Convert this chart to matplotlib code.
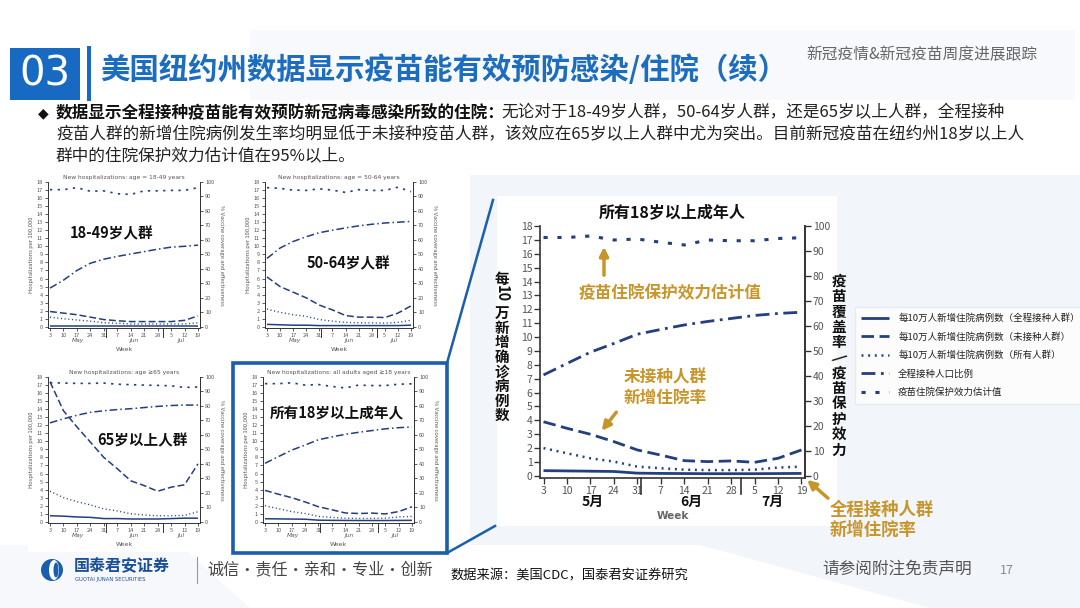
import matplotlib
matplotlib.use('Agg')
import matplotlib.pyplot as plt
from matplotlib.patches import Rectangle, Polygon, Circle, Ellipse

plt.rcParams['font.family'] = ['Noto Sans CJK SC', 'DejaVu Sans']
plt.rcParams['lines.scale_dashes'] = False
plt.rcParams['axes.unicode_minus'] = False

# ---------------- data ----------------
weeks = ['3', '10', '17', '24', '31', '7', '14', '21', '28', '5', '12', '19']
month_labels_cn = ['5月', '6月', '7月']
month_labels_en = ['May', 'Jun', 'Jul']
month_pos = [2.1, 6.3, 9.75]
month_breaks = [4 + 1 / 7, 8 + 3 / 7]

# all adults >= 18 (main chart + small chart 4)
adult_vax = [0.38, 0.36, 0.34, 0.32, 0.20, 0.18, 0.17, 0.16, 0.16, 0.16, 0.17, 0.18]
adult_unvax = [3.9, 3.43, 3.0, 2.47, 1.87, 1.5, 1.1, 1.03, 1.08, 0.98, 1.27, 1.87]
adult_all = [2.0, 1.63, 1.27, 1.03, 0.67, 0.55, 0.45, 0.42, 0.42, 0.45, 0.6, 0.67]
adult_cov = [40.4, 45.0, 49.5, 53.0, 56.7, 58.6, 60.4, 61.8, 63.0, 64.2, 65.0, 65.5]
adult_eff = [95.4, 95.4, 96.0, 94.4, 94.8, 93.5, 92.4, 94.4, 94.1, 94.1, 95.0, 95.3]

# 18-49
y1849_vax = [0.1, 0.1, 0.1, 0.1, 0.1, 0.1, 0.1, 0.1, 0.1, 0.1, 0.1, 0.1]
y1849_unvax = [1.9, 1.7, 1.5, 1.2, 0.9, 0.75, 0.65, 0.65, 0.65, 0.65, 0.8, 1.35]
y1849_all = [1.2, 1.0, 0.85, 0.7, 0.5, 0.45, 0.35, 0.35, 0.35, 0.35, 0.35, 0.5]
y1849_cov = [26.7, 32.2, 38.9, 43.9, 46.7, 48.6, 50.3, 51.9, 53.6, 55.0, 55.6, 56.4]
y1849_eff = [94.7, 94.7, 96.1, 93.6, 93.9, 91.9, 91.4, 93.9, 93.9, 94.2, 94.2, 96.1]

# 50-64
y5064_vax = [0.3, 0.25, 0.2, 0.2, 0.15, 0.15, 0.15, 0.15, 0.15, 0.15, 0.15, 0.2]
y5064_unvax = [6.2, 5.0, 4.3, 3.6, 2.7, 2.1, 1.4, 1.2, 1.2, 1.15, 1.7, 2.6]
y5064_all = [2.2, 1.8, 1.5, 1.3, 0.9, 0.7, 0.55, 0.5, 0.5, 0.45, 0.55, 0.8]
y5064_cov = [47.2, 54.4, 58.9, 62.2, 65.0, 66.7, 68.3, 69.7, 70.8, 71.7, 72.2, 72.8]
y5064_eff = [96.1, 95.6, 94.4, 94.2, 95.3, 94.4, 92.8, 94.7, 94.2, 94.2, 96.4, 93.3]

# >= 65
y65_vax = [0.75, 0.7, 0.6, 0.55, 0.4, 0.4, 0.35, 0.35, 0.35, 0.4, 0.45, 0.45]
y65_unvax = [17.4, 13.8, 11.8, 9.9, 8.0, 6.6, 5.1, 4.5, 3.8, 4.3, 4.6, 7.2]
y65_all = [3.8, 3.0, 2.5, 2.1, 1.6, 1.35, 1.0, 0.85, 0.75, 0.75, 0.8, 1.25]
y65_cov = [68.3, 71.1, 73.6, 75.6, 76.7, 77.5, 78.1, 78.9, 79.7, 80.3, 80.6, 80.6]
y65_eff = [96.1, 95.8, 95.6, 95.6, 95.8, 95.0, 94.7, 94.4, 94.2, 93.9, 92.8, 93.1]

legend_labels = ['每10万人新增住院病例数（全程接种人群）', '每10万人新增住院病例数（未接种人群）',
                 '每10万人新增住院病例数（所有人群）', '全程接种人口比例', '疫苗住院保护效力估计值']

# ---------------- figure ----------------
W, H = 1080, 608
fig = plt.figure(figsize=(10.8, 6.08), dpi=100)
fig.patch.set_facecolor('white')

NAVY = '#233f7c'
GOLD = '#c8952a'
BLUE = '#1c6cc0'


def rect_axes(l, t, r, b, **kw):
    return fig.add_axes([l / W, 1 - b / H, (r - l) / W, (b - t) / H], **kw)


# background axes
bg = fig.add_axes([0, 0, 1, 1], zorder=-5)
bg.set_xlim(0, W)
bg.set_ylim(H, 0)
bg.axis('off')
bg.add_patch(Polygon([(250, 30), (1075, 30), (1075, 100), (250, 100)], color='#f7f9fc', lw=0))
bg.add_patch(Polygon([(470, 175), (1080, 175), (1080, 545), (470, 545)], color='#f2f5f9', lw=0))
bg.add_patch(Polygon([(700, 545), (1080, 545), (1080, 608), (930, 608)], color='#f2f5f9', lw=0))
bg.add_patch(Polygon([(0, 545), (180, 545), (250, 608), (0, 608)], color='#f6f8fb', lw=0))
bg.add_patch(Rectangle((497, 196), 340, 330, color='white', lw=0))
for (l, t, r, b) in [(28, 168, 232, 356), (238, 168, 452, 356), (28, 362, 232, 552), (233, 363, 447, 553)]:
    bg.add_patch(Rectangle((l, t), r - l, b - t, color='white', lw=0))


def style_common(ax, lw_sp, tick_len, lab_size, col='#333333'):
    for s in ['left', 'bottom', 'right']:
        ax.spines[s].set_color(col)
        ax.spines[s].set_linewidth(lw_sp)
    ax.spines['top'].set_visible(False)
    ax.tick_params(axis='both', length=tick_len, width=lw_sp * 0.8, labelsize=lab_size,
                   colors=col, labelcolor='#555555', pad=1.5)


def draw_chart(ax, vax, unvax, allp, cov, eff, scale, small):
    x = list(range(len(weeks)))
    lw = 2.0 * scale
    l1, = ax.plot(x, vax, color=NAVY, lw=lw, solid_capstyle='butt')
    l2, = ax.plot(x, unvax, color=NAVY, lw=lw, linestyle=(0, (9 * scale, 4 * scale)))
    l3, = ax.plot(x, allp, color=NAVY, lw=lw * 0.9, linestyle=(0, (1.4 * scale, 3.4 * scale)))
    ax.set_xlim(-0.15, 11.15)
    ax.set_ylim(-0.15, 18)
    ax.set_yticks(range(0, 19))
    ax.set_xticks(x)
    ax.set_xticklabels(weeks)
    ax.patch.set_alpha(0)
    ax2 = ax.twinx()
    ax2.set_ylim(-0.15 / 18 * 100, 100)
    ax2.set_yticks(range(0, 101, 10))
    l4, = ax2.plot(x, cov, color=NAVY, lw=lw, linestyle=(0, (10 * scale, 4 * scale, 2 * scale, 4 * scale)))
    l5, = ax2.plot(x, eff, color=NAVY, lw=lw * 1.1, linestyle=(0, (3 * scale, 7 * scale)),
                   dash_capstyle='butt')
    for a in (ax, ax2):
        style_common(a, 1.2 * scale if not small else 0.7, 4 * scale, 7.5 if not small else 4)
        a.spines['top'].set_visible(False)
    ax2.spines['left'].set_visible(False)
    ax2.spines['bottom'].set_visible(False)
    tr = ax.get_xaxis_transform()
    for mb in month_breaks:
        ax.plot([mb, mb], [0, -0.065], transform=tr, color='#333333',
                lw=1.2 * scale if not small else 0.7, clip_on=False)
    return [l1, l2, l3, l4, l5], ax2


# ---------------- small charts ----------------
small_specs = [
    ((48, 182, 200, 328), 'New hospitalizations: age = 18-49 years',
     y1849_vax, y1849_unvax, y1849_all, y1849_cov, y1849_eff, '18-49岁人群', (70, 233), 'left'),
    ((265, 182, 413, 328), 'New hospitalizations: age = 50-64 years',
     y5064_vax, y5064_unvax, y5064_all, y5064_cov, y5064_eff, '50-64岁人群', (348, 263), 'center'),
    ((48, 377, 200, 523), 'New hospitalizations: age \u226565 years',
     y65_vax, y65_unvax, y65_all, y65_cov, y65_eff, '65岁以上人群', (142, 440), 'center'),
    ((263, 377, 414, 523), 'New hospitalizations: all adults aged \u226518 years',
     adult_vax, adult_unvax, adult_all, adult_cov, adult_eff, '所有18岁以上成年人', (337, 413), 'center'),
]

for (box, title, v, u, a_, c, e, lab, lpos, ha) in small_specs:
    l, t, r, b = box
    ax = rect_axes(l, t, r, b)
    lines, ax2 = draw_chart(ax, v, u, a_, c, e, 0.55, True)
    ax.set_title(title, fontsize=4.3, color='#555555', pad=2.5, family=['DejaVu Sans'])
    ax.set_ylabel('Hospitalizations per 100,000', fontsize=4.2, color='#555555', labelpad=2)
    ax2.set_ylabel('% Vaccine coverage and effectiveness', fontsize=4.2, color='#555555',
                   rotation=270, labelpad=7)
    tr = ax.get_xaxis_transform()
    for mp, ml in zip(month_pos, month_labels_en):
        ax.text(mp, -0.085, ml, transform=tr, ha='center', va='center', fontsize=4.2,
                color='#555555', style='italic', family=['DejaVu Sans'])
    ax.text(5.5, -0.15, 'Week', transform=tr, ha='center', va='center', fontsize=4.5,
            color='#555555', family=['DejaVu Sans'])
    fig.text(lpos[0] / W, 1 - lpos[1] / H, lab, ha=ha, va='center', fontsize=10.5,
             fontweight='bold', color='#111111', zorder=20)

# ---------------- main chart ----------------
axm = rect_axes(540, 226, 805, 478)
main_lines, axm2 = draw_chart(axm, adult_vax, adult_unvax, adult_all, adult_cov, adult_eff, 1.0, False)
axm.set_title('所有18岁以上成年人', fontsize=11.5, fontweight='bold', color='#111111', pad=6)
trm = axm.get_xaxis_transform()
for mp, ml in zip(month_pos, month_labels_cn):
    axm.text(mp, -0.095, ml, transform=trm, ha='center', va='center', fontsize=10,
             fontweight='bold', color='#111111')
axm.text(5.5, -0.15, 'Week', transform=trm, ha='center', va='center', fontsize=7.5,
         color='#666666', fontweight='bold', family=['DejaVu Sans'])

leg = fig.legend(main_lines, legend_labels, loc='upper left',
                 bbox_to_anchor=(850 / W, 1 - 302 / H), fontsize=6.8, frameon=True,
                 facecolor='white', edgecolor='#e3e8ef', fancybox=False, handlelength=2.9,
                 handletextpad=1.0, labelspacing=0.95, borderpad=0.7)
for txt in leg.get_texts():
    txt.set_color('#222222')

# ---------------- overlay ----------------
ov = fig.add_axes([0, 0, 1, 1], zorder=15)
ov.set_xlim(0, W)
ov.set_ylim(H, 0)
ov.axis('off')
ov.patch.set_alpha(0)

# left vertical label
ov.text(502, 279, '每', ha='center', va='center', fontsize=10.5, fontweight='bold', color='#111111')
ov.text(502, 294, '10', ha='center', va='center', fontsize=10.5, fontweight='bold', color='#111111',
        rotation=270)
for i, ch in enumerate('万新增确诊病例数'):
    ov.text(502, 313 + i * 14.6, ch, ha='center', va='center', fontsize=10.5, fontweight='bold',
            color='#111111')
# right vertical label
for i, ch in enumerate('疫苗覆盖率/疫苗保护效力'):
    ov.text(839, 281 + i * 15.3, ch, ha='center', va='center', fontsize=10.5, fontweight='bold',
            color='#111111', rotation=(300 if ch == '/' else 0))

# annotations
ov.text(670, 293, '疫苗住院保护效力估计值', ha='center', va='center', fontsize=12,
        fontweight='bold', color=GOLD)
ov.annotate('', xy=(604, 244), xytext=(604, 278),
            arrowprops=dict(arrowstyle='-|>', color=GOLD, lw=2.5, mutation_scale=13))
ov.text(665, 388, '未接种人群\n新增住院率', ha='center', va='center', fontsize=12,
        fontweight='bold', color=GOLD, linespacing=1.2)
ov.annotate('', xy=(600, 433), xytext=(618, 410),
            arrowprops=dict(arrowstyle='-|>', color=GOLD, lw=2.5, mutation_scale=13))
ov.text(830, 520, '全程接种人群\n新增住院率', ha='left', va='center', fontsize=12.5,
        fontweight='bold', color=GOLD, linespacing=1.15)
ov.annotate('', xy=(805, 478), xytext=(830, 500),
            arrowprops=dict(arrowstyle='-|>', color=GOLD, lw=2.5, mutation_scale=13))

# frame around small chart 4 and zoom lines
FB = '#1a5fae'
ov.add_patch(Rectangle((233, 363), 214, 190, fill=False, edgecolor=FB, lw=2.6))
ov.plot([447, 493], [363, 200], color=FB, lw=1.8)
ov.plot([447, 495], [553, 526], color=FB, lw=1.8)

# header
ov.add_patch(Rectangle((10, 48), 70, 52, color='#1769c2', lw=0))
ov.text(45, 75, '03', ha='center', va='center', fontsize=29, color='white', family=['DejaVu Sans'])
ov.add_patch(Rectangle((87, 46), 4, 55, color='#1769c2', lw=0))
ov.text(100, 70, '美国纽约州数据显示疫苗能有效预防感染/住院（续）', ha='left', va='center',
        fontsize=21.2, fontweight='bold', color=BLUE)
ov.text(806, 55, '新冠疫情&新冠疫苗周度进展跟踪', ha='left', va='center', fontsize=11.3,
        color='#666666')

# bullet text
FS = 12.0
ov.text(38, 113, '◆', ha='left', va='center', fontsize=10, color='#111111', family=['DejaVu Sans'])
fig.canvas.draw()
renderer = fig.canvas.get_renderer()
t_bold = ov.text(56, 113, '数据显示全程接种疫苗能有效预防新冠病毒感染所致的住院：', ha='left',
                 va='center', fontsize=FS, fontweight='bold', color='#111111')
bb = t_bold.get_window_extent(renderer)
x_end = bb.x1  # pixels
ov.text(x_end - 4, 113, '无论对于18-49岁人群，50-64岁人群，还是65岁以上人群，全程接种', ha='left',
        va='center', fontsize=FS, color='#222222')
ov.text(56, 135, '疫苗人群的新增住院病例发生率均明显低于未接种疫苗人群，该效应在65岁以上人群中尤为突出。目前新冠疫苗在纽约州18岁以上人',
        ha='left', va='center', fontsize=FS, color='#222222')
ov.text(56, 157, '群中的住院保护效力估计值在95%以上。', ha='left', va='center', fontsize=FS,
        color='#222222')

# footer
ov.add_patch(Circle((52, 570), 11, color='#1a5fae', lw=0))
ov.add_patch(Ellipse((54, 570), 10, 20, color='white', lw=0))
ov.add_patch(Ellipse((56, 570), 5, 15, color='#1a5fae', lw=0))
ov.text(74, 566, '国泰君安证券', ha='left', va='center', fontsize=11.5, fontweight='bold',
        color='#1a4f9c')
ov.text(75, 579, 'GUOTAI JUNAN SECURITIES', ha='left', va='center', fontsize=3.8,
        color='#1a4f9c', family=['DejaVu Sans'])
ov.plot([197, 197], [557, 583], color='#999999', lw=0.8)
ov.text(207, 570, '诚信·责任·亲和·专业·创新', ha='left', va='center', fontsize=11.6,
        color='#444444')
ov.text(450, 576, '数据来源：美国CDC，国泰君安证券研究', ha='left', va='center', fontsize=9.5,
        color='#111111')
ov.text(822, 570, '请参阅附注免责声明', ha='left', va='center', fontsize=12, color='#555555')
ov.text(1000, 570, '17', ha='left', va='center', fontsize=9, color='#888888')

fig.savefig('out.png', dpi=100)
